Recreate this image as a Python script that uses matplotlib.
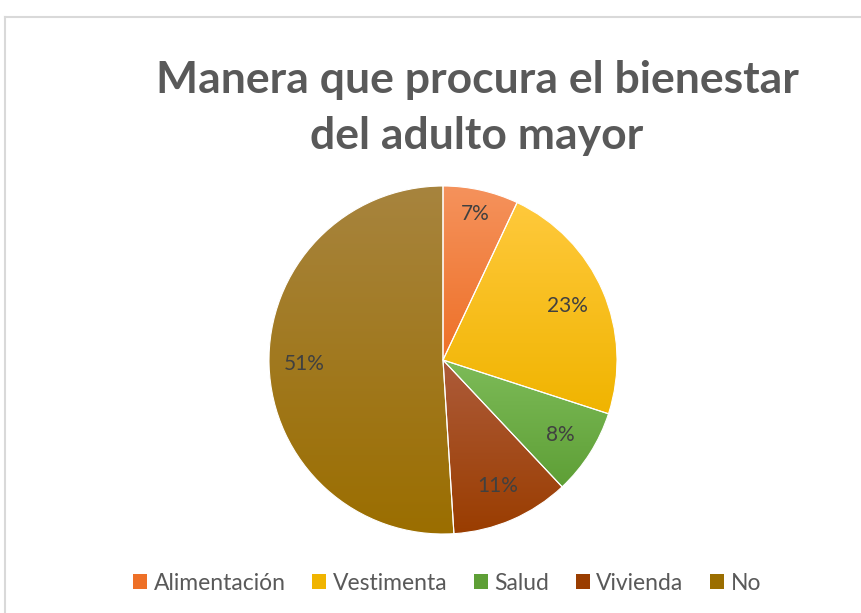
import numpy as np
import matplotlib.pyplot as plt
from matplotlib.colors import to_rgb
from matplotlib.lines import Line2D
from matplotlib.patches import Patch

categories = ["Alimentación", "Vestimenta", "Salud", "Vivienda", "No"]
values = [7, 23, 8, 11, 51]
top_colors = ["#F5925C", "#FFC93C", "#7DBB58", "#AD5B3A", "#A7843E"]
bottom_colors = ["#EE7027", "#F0B400", "#5E9F36", "#9A3D00", "#9B6E00"]

plt.rcParams['font.family'] = ['Lato', 'DejaVu Sans']

fig = plt.figure(figsize=(8.61, 6.13), dpi=100)
ax = fig.add_axes([0, 0, 1, 1])
ax.set_xlim(0, 861)
ax.set_ylim(613, 0)
ax.axis("off")

# chart frame
fig.add_artist(Line2D([4.5 / 861, 4.5 / 861], [0, 1 - 16.5 / 613], color="#D9D9D9", lw=1.5))
fig.add_artist(Line2D([4.5 / 861, 1], [1 - 16.5 / 613, 1 - 16.5 / 613], color="#D9D9D9", lw=1.5))

fig.text(477 / 861, 1 - 80 / 613, "Manera que procura el bienestar", ha="center", va="center",
         fontsize=32, fontweight="bold", color="#595959")
fig.text(477 / 861, 1 - 136 / 613, "del adulto mayor", ha="center", va="center",
         fontsize=32, fontweight="bold", color="#595959")

# pie axes
cx, cy, r = 443, 360, 174
pax = fig.add_axes([(cx - r) / 861, 1 - (cy + r) / 613, 2 * r / 861, 2 * r / 613])
wedges, texts = pax.pie(values, startangle=90, counterclock=False, radius=1,
                        colors=top_colors,
                        wedgeprops=dict(edgecolor="white", linewidth=0.8))

# vertical gradient per slice (light at top, darker at bottom)
grad = np.linspace(0, 1, 256)[:, None]
for w, c1, c2 in zip(wedges, top_colors, bottom_colors):
    c1 = np.array(to_rgb(c1))
    c2 = np.array(to_rgb(c2))
    img = c1[None, None, :] * (1 - grad[:, :, None]) + c2[None, None, :] * grad[:, :, None]
    img = np.repeat(img, 2, axis=1)
    bb = w.get_path().get_extents()
    im = pax.imshow(img, extent=[bb.x0, bb.x1, bb.y0, bb.y1], origin="upper",
                    aspect="auto", zorder=1)
    im.set_clip_path(w)
    w.set_facecolor("none")
    w.set_zorder(2)
pax.set_xlim(-1, 1)
pax.set_ylim(-1, 1)
pax.set_aspect("auto")

total = sum(values)
start = 90.0
label_dist = [0.86, 0.78, 0.8, 0.79, 0.8]
for v, d in zip(values, label_dist):
    mid = np.deg2rad(start - v / total * 360 / 2)
    pax.text(d * np.cos(mid), d * np.sin(mid), f"{v}%", ha="center", va="center",
             fontsize=15, color="#404040", zorder=3)
    start -= v / total * 360

handles = [Patch(facecolor=b, edgecolor="none") for b in bottom_colors]
fig.legend(handles, categories, loc="center", bbox_to_anchor=(447 / 861, 1 - 583 / 613),
           ncol=5, frameon=False, fontsize=16.5, labelcolor="#595959",
           handlelength=0.62, handleheight=0.62, handletextpad=0.28, columnspacing=1.15)

fig.savefig("out.png", dpi=100)
